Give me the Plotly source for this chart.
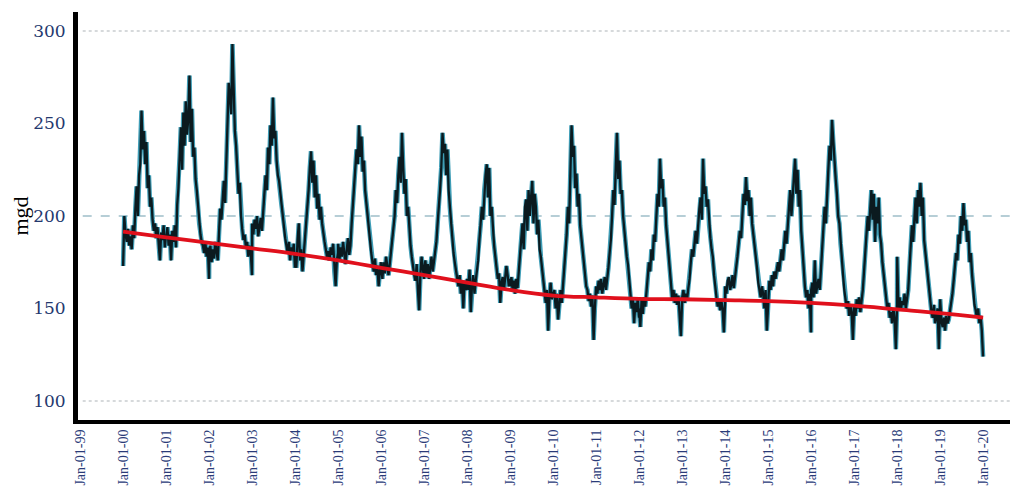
import pandas as pd
import plotly.graph_objects as go

# ---- data (~10-day resolution, 36 values per year) ----
years = list(range(2000, 2020))
demand = {
    2000: [173, 200, 190, 186, 193, 184, 189, 182, 195, 188, 204, 216, 200, 222, 228, 257, 236, 246, 228, 240, 215, 222, 205, 210, 198, 192, 196, 188, 194, 186, 176, 191, 187, 195, 183, 190],
    2001: [188, 194, 184, 190, 176, 192, 186, 195, 183, 206, 215, 232, 248, 225, 256, 238, 262, 244, 252, 276, 240, 258, 232, 237, 220, 214, 205, 196, 190, 186, 184, 180, 186, 178, 183, 166],
    2002: [178, 184, 175, 182, 177, 186, 180, 176, 190, 204, 198, 212, 219, 207, 226, 250, 272, 264, 255, 293, 262, 246, 238, 225, 212, 218, 200, 193, 187, 190, 183, 186, 178, 184, 180, 168],
    2003: [196, 190, 198, 193, 200, 189, 195, 199, 192, 201, 208, 222, 214, 237, 228, 249, 238, 264, 242, 246, 230, 222, 219, 212, 206, 200, 194, 188, 184, 180, 186, 176, 183, 179, 185, 172],
    2004: [180, 172, 187, 196, 176, 182, 170, 178, 190, 198, 205, 214, 226, 235, 218, 230, 210, 222, 204, 212, 198, 205, 196, 190, 186, 182, 178, 181, 176, 183, 179, 185, 170, 162, 176, 180],
    2005: [185, 176, 183, 178, 186, 180, 174, 182, 188, 179, 184, 196, 205, 215, 223, 236, 228, 249, 232, 243, 224, 230, 214, 208, 200, 194, 187, 180, 175, 170, 177, 168, 173, 162, 170, 175],
    2006: [172, 166, 175, 169, 178, 171, 168, 174, 180, 187, 193, 200, 214, 207, 222, 232, 218, 245, 226, 212, 220, 200, 205, 190, 184, 178, 172, 168, 165, 174, 160, 149, 168, 178, 172, 166],
    2007: [170, 176, 168, 174, 166, 172, 178, 170, 175, 180, 186, 196, 204, 214, 226, 245, 234, 239, 222, 236, 214, 205, 196, 188, 180, 175, 170, 166, 162, 168, 158, 164, 150, 165, 160, 163],
    2008: [166, 160, 171, 148, 163, 168, 158, 165, 170, 176, 187, 195, 205, 198, 214, 222, 228, 210, 226, 200, 205, 190, 184, 178, 172, 166, 169, 153, 164, 167, 160, 166, 173, 168, 162, 166],
    2009: [162, 167, 160, 165, 158, 166, 161, 170, 178, 187, 196, 182, 205, 209, 192, 214, 200, 210, 219, 196, 212, 205, 190, 198, 182, 178, 172, 165, 158, 153, 160, 138, 156, 164, 155, 159],
    2010: [156, 160, 150, 158, 144, 155, 160, 153, 162, 170, 178, 190, 205, 196, 222, 249, 232, 238, 215, 223, 205, 212, 195, 188, 182, 176, 170, 162, 160, 154, 158, 151, 157, 133, 150, 160],
    2011: [162, 158, 165, 160, 166, 158, 163, 167, 160, 165, 172, 180, 187, 200, 214, 206, 228, 245, 220, 230, 212, 214, 200, 192, 186, 178, 174, 165, 156, 150, 155, 142, 153, 148, 156, 145],
    2012: [150, 140, 155, 147, 156, 151, 158, 166, 175, 170, 182, 176, 190, 186, 200, 212, 205, 231, 215, 220, 205, 210, 195, 186, 178, 170, 162, 155, 160, 153, 158, 152, 157, 146, 135, 154],
    2013: [156, 160, 153, 158, 155, 161, 166, 175, 182, 178, 186, 192, 185, 196, 204, 210, 198, 231, 212, 216, 205, 209, 195, 188, 182, 178, 168, 160, 156, 151, 155, 149, 154, 150, 137, 152],
    2014: [162, 158, 165, 167, 160, 163, 168, 161, 166, 172, 178, 185, 192, 188, 200, 212, 206, 221, 208, 214, 200, 210, 196, 190, 187, 180, 172, 164, 160, 156, 162, 158, 150, 160, 138, 156],
    2015: [158, 165, 160, 168, 162, 170, 166, 172, 175, 170, 178, 182, 176, 186, 192, 185, 196, 205, 214, 200, 210, 218, 231, 212, 225, 205, 214, 192, 180, 170, 162, 156, 160, 150, 158, 137],
    2016: [160, 164, 156, 176, 158, 162, 166, 160, 170, 180, 192, 205, 196, 215, 225, 238, 230, 252, 240, 232, 220, 212, 200, 196, 185, 178, 168, 160, 156, 150, 154, 146, 152, 148, 133, 150],
    2017: [152, 146, 155, 150, 156, 148, 153, 160, 170, 180, 190, 200, 192, 205, 214, 198, 212, 186, 205, 196, 210, 190, 185, 175, 168, 164, 158, 150, 153, 145, 148, 142, 150, 144, 128, 152],
    2018: [178, 150, 156, 149, 154, 152, 158, 150, 155, 160, 172, 185, 195, 186, 200, 210, 196, 214, 205, 218, 200, 210, 187, 180, 172, 169, 160, 153, 148, 145, 152, 142, 147, 150, 128, 146],
    2019: [155, 143, 140, 145, 138, 146, 142, 144, 148, 152, 158, 165, 172, 180, 176, 190, 185, 200, 192, 207, 195, 198, 186, 192, 175, 180, 169, 160, 152, 149, 145, 150, 142, 146, 138, 124],
}

trend_years = list(range(2000, 2021))
trend_values = [191.5, 188.5, 185.5, 182.5, 179.5, 176, 172, 168, 164, 160, 157, 156, 155.2, 155, 154.5, 154, 153, 151.5, 149.5, 147.5, 145]

tick_years = list(range(1999, 2021))
tick_labels = [f"Jan-01-{y % 100:02d}" for y in tick_years]
y_ticks = [100, 150, 200, 250, 300]

# ---- build ----
x_dates, y_vals = [], []
for yr in years:
    vals = demand[yr]
    d = pd.date_range(f"{yr}-01-01", f"{yr}-12-31", periods=len(vals))
    x_dates.extend(d)
    y_vals.extend(vals)

trend_x = [pd.Timestamp(f"{y}-01-01") for y in trend_years]

fig = go.Figure()
fig.add_trace(go.Scatter(x=x_dates, y=y_vals, mode="lines",
                         line=dict(color="#3f9db6", width=4.6), hoverinfo="skip",
                         showlegend=False))
fig.add_trace(go.Scatter(x=x_dates, y=y_vals, mode="lines",
                         line=dict(color="#0b1a1f", width=2.3), name="mgd",
                         showlegend=False))
fig.add_trace(go.Scatter(x=trend_x, y=trend_values, mode="lines",
                         line=dict(color="#e0101c", width=3.8, shape="spline"),
                         showlegend=False))

for yv, dash, col in [(300, "dot", "#c9cdd0"), (200, "dash", "#9fbfc9"), (100, "dot", "#c9cdd0")]:
    fig.add_shape(type="line", xref="paper", x0=0.005, x1=1, yref="y", y0=yv, y1=yv,
                  line=dict(color=col, width=1.6, dash=dash), layer="below")

# the page adds an 8px body margin, so the figure is sized/offset to compensate
fig.update_layout(
    width=1010, height=479,
    margin=dict(l=70, r=0, t=4, b=67),
    paper_bgcolor="white", plot_bgcolor="white",
    font=dict(family="Liberation Serif, Times New Roman, serif"),
)
fig.update_xaxes(
    range=[pd.Timestamp("1998-12-14"), pd.Timestamp("2020-10-23")],
    tickvals=[pd.Timestamp(f"{y}-01-01") for y in tick_years],
    ticktext=tick_labels, tickangle=-90,
    tickfont=dict(family="Liberation Serif, serif", size=14, color="#2a3b78"),
    showgrid=False, zeroline=False, automargin=False,
    showline=True, linecolor="black", linewidth=4, ticks="",
)
fig.update_yaxes(
    range=[89.7, 310.3],
    tickvals=y_ticks,
    tickfont=dict(family="DejaVu Serif, serif", size=17, color="#24386e"),
    showgrid=False, zeroline=False, automargin=False,
    showline=True, linecolor="black", linewidth=5, ticks="", ticklabelstandoff=4,
    title=dict(text="mgd", font=dict(family="Liberation Serif, serif", size=22, color="black"), standoff=4),
)

fig.write_html("out.html")
